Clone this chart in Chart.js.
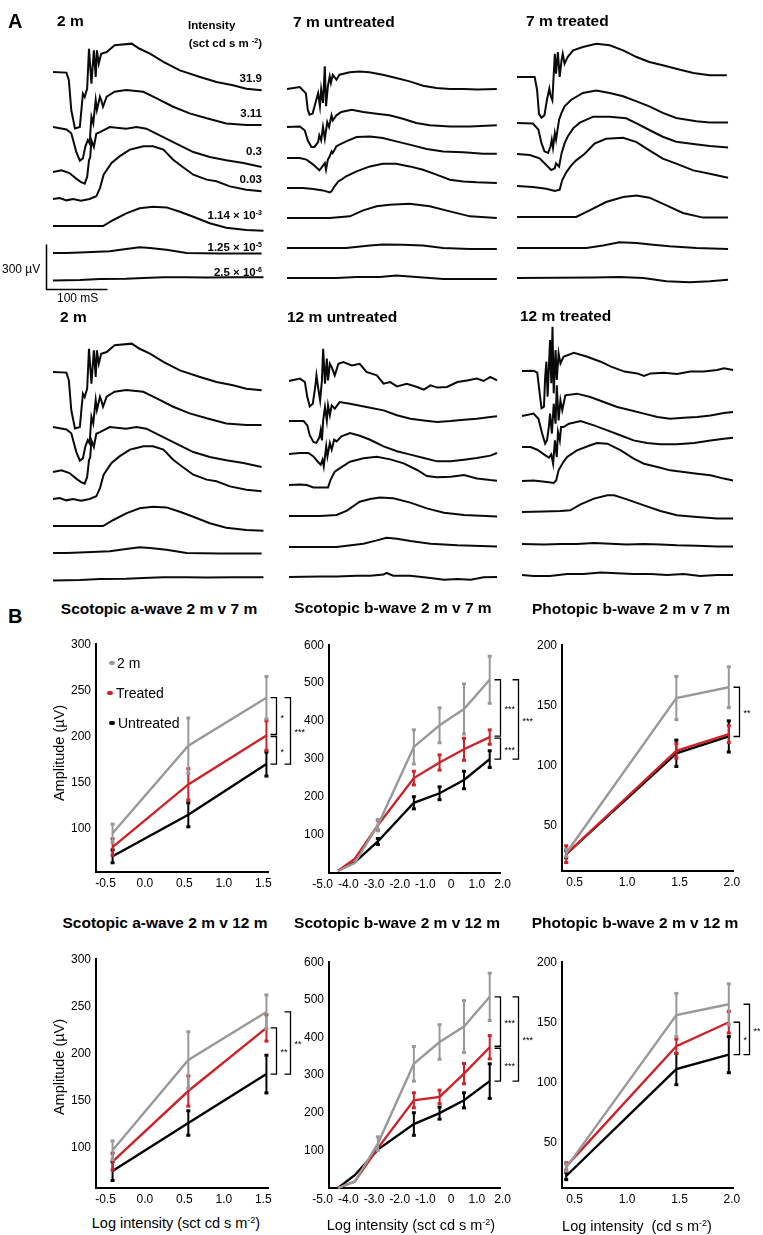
<!DOCTYPE html>
<html>
<head>
<meta charset="utf-8">
<script src="https://cdn.jsdelivr.net/npm/chart.js@4.4.1/dist/chart.umd.min.js"></script>
<style>
  html, body { margin: 0; padding: 0; background: #fff; }
  body { width: 763px; height: 1235px; position: relative; overflow: hidden;
         font-family: "Liberation Sans", Arial, Helvetica, sans-serif; color: #000; }
  canvas { position: absolute; }
  .t { position: absolute; white-space: nowrap; line-height: 1; }
  .letter { font-size: 20px; font-weight: bold; }
  .ttl { font-size: 15.5px; font-weight: bold; }
  .lvl { font-size: 11.5px; font-weight: bold; }
  .lvl sup { font-size: 7px; vertical-align: 4px; }
  .bar { font-size: 12px; }
  .leg { font-size: 14px; }
  .ax { font-size: 14.5px; }
  .ax sup { font-size: 9px; vertical-align: 5px; }
  .mk { position: absolute; width: 6px; height: 4px; border-radius: 2px; transform: translate(-50%, -50%); }
</style>
</head>
<body>
<script>
// ---------- Panel A: ERG traces, [time ms, amplitude uV] ----------
// 2 m (shown in both rows)
const m2_1 = [[0,0],[22,-4],[26,-55],[30,-255],[36,-377],[44,-366],[49,-144],[52,-167],[56,-111],[59,155],[63,-78],[67,144],[70,-33],[72,144],[75,55],[79,122],[88,133],[101,178],[129,189],[142,155],[159,122],[181,67],[208,11],[241,-33],[268,-67],[295,-89],[317,-111],[342,-122]];
const m2_2 = [[0,0],[22,-16],[30,-42],[38,-164],[44,-224],[49,-209],[53,-131],[57,-87],[60,-109],[63,69],[66,24],[70,180],[72,113],[77,202],[79,180],[82,135],[88,202],[101,235],[120,246],[148,235],[170,191],[197,135],[224,91],[252,58],[284,24],[317,13],[342,13]];
const m2_3 = [[0,0],[14,11],[27,-7],[38,-44],[46,-67],[52,-78],[56,-33],[59,78],[61,100],[63,211],[67,167],[71,255],[77,266],[93,300],[120,289],[137,300],[153,289],[175,244],[202,189],[230,133],[257,100],[284,78],[312,60],[342,33]];
const m2_4 = [[0,0],[11,7],[22,-9],[33,0],[46,-11],[60,0],[71,18],[77,73],[83,162],[96,240],[109,284],[126,329],[137,340],[148,351],[164,351],[181,329],[197,262],[211,218],[230,162],[252,129],[268,118],[290,84],[317,62],[342,51]];
const m2_5 = [[0,0],[82,0],[99,40],[120,84],[142,118],[164,129],[186,124],[208,95],[230,62],[257,18],[284,-11],[317,-27],[345,-31]];
const m2_6 = [[0,0],[22,0],[44,4],[93,11],[120,27],[142,38],[159,33],[186,22],[219,0],[273,-4],[342,-4]];
const m2_7 = [[0,-4],[44,0],[77,7],[120,9],[148,13],[181,18],[219,18],[252,16],[295,18],[345,18]];

// 7 m untreated
const u7_1 = [[0,0],[21,13],[31,-29],[34,-138],[37,-171],[42,-164],[48,-71],[51,-27],[54,-115],[56,-4],[59,-93],[62,151],[64,-115],[67,18],[70,84],[72,40],[75,95],[81,62],[86,95],[103,111],[119,117],[135,111],[157,95],[179,73],[201,51],[223,22],[245,7],[267,0],[290,0],[312,-4],[344,0]];
const u7_2 = [[0,0],[21,4],[29,-22],[34,-89],[40,-133],[45,-133],[51,-100],[53,-55],[56,-89],[59,0],[62,-78],[66,33],[69,0],[73,78],[75,44],[81,78],[89,100],[106,115],[125,100],[147,89],[168,78],[190,55],[212,27],[234,11],[267,4],[300,4],[344,11]];
const u7_3 = [[0,0],[21,0],[32,-11],[43,-44],[53,-82],[56,-67],[62,-33],[64,-78],[67,-11],[70,11],[73,44],[75,33],[81,78],[86,89],[97,111],[114,140],[136,144],[157,133],[179,111],[201,89],[229,60],[256,44],[289,38],[322,29],[344,29]];
const u7_4 = [[0,0],[26,0],[43,-7],[59,-16],[70,-29],[73,-22],[78,11],[84,44],[89,55],[97,78],[114,111],[136,144],[157,162],[179,162],[201,144],[223,122],[245,89],[267,55],[289,44],[311,38],[344,33]];
const u7_5 = [[0,0],[70,0],[103,11],[125,51],[147,78],[168,89],[201,95],[234,78],[267,44],[300,11],[344,0]];
const u7_6 = [[0,0],[54,0],[97,0],[136,16],[157,24],[190,22],[223,16],[256,0],[300,-7],[344,-7]];
const u7_7 = [[0,0],[81,0],[114,7],[152,7],[179,16],[212,7],[256,-7],[300,-7],[344,-7]];

// 7 m treated
const t7_1 = [[0,0],[29,0],[33,-89],[36,-244],[40,-271],[45,-255],[49,-155],[53,-78],[55,-122],[58,-155],[62,155],[64,22],[67,166],[70,0],[73,111],[75,155],[78,89],[83,133],[92,178],[108,200],[130,222],[152,211],[174,178],[196,133],[217,100],[239,78],[261,55],[289,27],[316,11],[344,11]];
const t7_2 = [[0,0],[26,-4],[35,-44],[40,-133],[45,-189],[51,-200],[55,-155],[57,-111],[59,-166],[62,-67],[64,-111],[69,22],[73,67],[78,111],[89,155],[108,200],[130,217],[152,200],[174,178],[196,144],[217,111],[239,67],[261,33],[294,11],[316,4],[346,4]];
const t7_3 = [[0,0],[21,-7],[37,-29],[48,-73],[56,-107],[62,-95],[64,-62],[69,-84],[73,4],[78,71],[83,115],[92,171],[103,209],[125,249],[152,249],[179,238],[196,204],[217,160],[239,115],[261,82],[289,67],[316,53],[346,44]];
const t7_4 = [[0,0],[26,-7],[48,-18],[62,-33],[70,-24],[74,38],[81,93],[89,138],[97,171],[111,215],[127,282],[146,315],[174,322],[196,293],[217,238],[239,182],[261,149],[289,104],[316,82],[346,55]];
const t7_5 = [[0,0],[43,0],[97,0],[119,44],[146,100],[174,133],[196,144],[217,129],[245,78],[272,27],[305,-4],[346,-4]];
const t7_6 = [[0,0],[114,0],[141,16],[168,38],[196,33],[223,22],[250,11],[294,0],[346,-7]];
const t7_7 = [[0,0],[125,4],[168,7],[207,0],[245,-22],[283,-29],[316,-22],[346,-11]];

// 12 m untreated
const u12_1 = [[0,0],[18,16],[26,-7],[30,-107],[34,-169],[39,-151],[43,-40],[45,38],[48,-51],[51,-129],[54,4],[56,215],[59,-18],[62,149],[64,4],[67,115],[70,93],[75,38],[81,115],[89,126],[103,104],[116,115],[127,60],[144,38],[155,-18],[166,-7],[177,-36],[193,-18],[210,-40],[221,-58],[232,-29],[243,-44],[259,-40],[276,-7],[292,4],[308,16],[319,0],[330,27],[341,4]];
const u12_2 = [[0,0],[24,0],[30,-29],[34,-95],[40,-140],[45,-146],[50,-107],[52,-62],[54,-129],[56,4],[59,93],[62,4],[64,104],[67,38],[70,104],[75,82],[83,126],[100,115],[127,93],[155,71],[177,38],[199,15],[221,4],[243,-7],[265,0],[287,9],[308,15],[330,27],[341,31]];
const u12_3 = [[0,0],[18,7],[32,7],[40,-16],[48,-55],[52,-71],[55,-38],[57,-82],[61,51],[63,-16],[67,73],[70,29],[74,95],[78,84],[86,118],[100,140],[116,122],[133,95],[155,51],[177,18],[199,-4],[221,-27],[243,-49],[265,-49],[287,-38],[308,-27],[330,-11],[341,7]];
const u12_4 = [[0,0],[18,4],[29,0],[40,-16],[51,-16],[64,-16],[68,33],[75,89],[83,111],[100,155],[122,178],[144,189],[166,171],[188,144],[210,100],[226,60],[243,51],[265,55],[287,67],[308,44],[330,33],[341,29]];
const u12_5 = [[0,0],[51,0],[78,7],[95,36],[116,95],[133,113],[149,124],[171,118],[199,89],[226,51],[254,22],[287,7],[341,-4]];
const u12_6 = [[0,0],[78,0],[122,22],[144,44],[160,62],[177,55],[199,40],[232,22],[276,11],[341,4]];
const u12_7 = [[0,0],[51,4],[78,4],[111,9],[133,9],[155,16],[160,27],[171,9],[199,9],[232,-7],[254,-18],[276,-13],[298,-18],[319,-2],[341,0]];

// 12 m treated
const t12_1 = [[0,0],[19,2],[25,-11],[29,-149],[32,-249],[36,-238],[38,-38],[40,62],[42,-171],[46,206],[48,-82],[50,295],[52,-149],[55,140],[57,-60],[60,118],[63,51],[68,95],[85,122],[107,95],[129,62],[146,29],[168,-4],[189,-16],[200,-33],[211,-16],[233,-11],[254,-20],[276,-4],[298,-4],[320,7],[331,18],[346,7]];
const t12_2 = [[0,0],[19,16],[27,-18],[33,-117],[38,-184],[41,-162],[44,-73],[46,16],[49,-117],[52,82],[55,-51],[57,204],[60,-29],[63,104],[66,38],[71,138],[90,149],[112,127],[134,93],[156,60],[178,38],[200,16],[222,-7],[243,-18],[265,-11],[287,-7],[309,4],[331,20],[346,27]];
const t12_3 = [[0,0],[14,0],[25,-18],[36,-49],[44,-71],[48,-49],[51,-111],[54,44],[57,-67],[59,100],[62,44],[64,133],[68,133],[77,155],[96,173],[118,144],[140,111],[161,78],[183,44],[205,27],[227,18],[254,18],[282,27],[309,44],[331,55],[346,62]];
const t12_4 = [[0,0],[19,4],[41,-7],[52,-13],[56,4],[60,71],[66,115],[74,160],[90,204],[112,238],[123,253],[140,249],[162,204],[183,149],[200,115],[222,93],[243,71],[265,60],[287,49],[309,38],[331,16],[346,4]];
const t12_5 = [[0,0],[36,4],[63,7],[79,11],[96,51],[118,89],[140,111],[151,111],[172,84],[200,44],[227,7],[254,-22],[287,-33],[320,-44],[346,-44]];
const t12_6 = [[0,0],[36,-4],[63,0],[90,0],[118,7],[145,2],[172,-4],[200,0],[227,-4],[254,-9],[287,-11],[320,-16],[346,-16]];
const t12_7 = [[0,0],[19,-7],[46,-7],[74,7],[101,7],[129,16],[156,11],[183,7],[211,7],[238,0],[265,7],[292,-7],[320,0],[346,0]];

const intensityLabels = ["31.9", "3.11", "0.3", "0.03", "1.14 × 10<sup>-3</sup>", "1.25 × 10<sup>-5</sup>", "2.5 × 10<sup>-6</sup>"];

// ---------- Panel B: amplitudes (uV) and SEM ----------
const aWaveX = [-0.41, 0.55, 1.54];
const bWaveX = [-4.4, -3.75, -2.85, -1.45, -0.45, 0.5, 1.5];
const photX = [0.42, 1.47, 1.97];

const aw7Young = [95, 190, 242],  aw7YoungSem = [10, 30, 23];
const aw7Treated = [80, 148, 201], aw7TreatedSem = [9, 17, 16];
const aw7Untreated = [70, 115, 170], aw7UntreatedSem = [7, 13, 13];

const bw7Young = [6, 26, 126, 332, 389, 432, 509],  bw7YoungSem = [0, 0, 15, 45, 46, 66, 62];
const bw7Treated = [6, 37, 126, 250, 291, 326, 358], bw7TreatedSem = [0, 0, 13, 18, 20, 29, 19];
const bw7Untreated = [6, 28, 83, 185, 210, 245, 300], bw7UntreatedSem = [0, 0, 8, 16, 17, 23, 22];

const pb7Young = [27, 156, 165],  pb7YoungSem = [3, 18, 17];
const pb7Treated = [26, 112, 126], pb7TreatedSem = [7, 6, 7];
const pb7Untreated = [26, 110, 124], pb7UntreatedSem = [3, 11, 13];

const aw12Young = [97, 193, 244],  aw12YoungSem = [10, 30, 18];
const aw12Treated = [85, 160, 227], aw12TreatedSem = [9, 16, 14];
const aw12Untreated = [75, 126, 178], aw12UntreatedSem = [10, 13, 20];

const bw12Young = [0, 17, 118, 330, 388, 429, 508],  bw12YoungSem = [0, 0, 18, 46, 46, 69, 63];
const bw12Treated = [0, 17, 106, 233, 242, 304, 374], bw12TreatedSem = [0, 0, 0, 20, 18, 27, 31];
const bw12Untreated = [0, 34, 102, 170, 199, 233, 284], bw12UntreatedSem = [0, 0, 0, 30, 16, 20, 46];

const pb12Young = [29, 156, 165],  pb12YoungSem = [3, 18, 17];
const pb12Treated = [30, 130, 150], pb12TreatedSem = [3, 6, 9];
const pb12Untreated = [22, 111, 123], pb12UntreatedSem = [3, 13, 15];

const aTicksX = [-0.5, 0, 0.5, 1.0, 1.5];
const bTicksX = [-5, -4, -3, -2, -1, 0, 1, 2];
const pTicksX = [0.5, 1.0, 1.5, 2.0];
const aTicksY = [100, 150, 200, 250, 300];
const bTicksY = [100, 200, 300, 400, 500, 600];
const pTicksY = [50, 100, 150, 200];

const GREY = "#999999", RED = "#cc2229", BLACK = "#000000";

// ---------- helpers ----------
Chart.defaults.font.family = '"Liberation Sans", Arial, Helvetica, sans-serif';
Chart.defaults.color = "#000";

const UV_PER_PX = 300 / 45;  // from the 300 uV scale bar
const MS_PER_PX = 100 / 61;  // from the 100 ms scale bar

function addCanvas(left, top, w, h) {
  const c = document.createElement("canvas");
  c.width = w; c.height = h;
  c.style.left = left + "px"; c.style.top = top + "px";
  c.style.width = w + "px"; c.style.height = h + "px";
  document.body.appendChild(c);
  return c;
}

function txt(html, x, y, cls, align) {
  const d = document.createElement("div");
  d.className = "t " + (cls || "");
  d.innerHTML = html;
  d.style.left = x + "px"; d.style.top = y + "px";
  const tx = align === "r" ? "-100%" : align === "c" ? "-50%" : "0";
  d.style.transform = "translate(" + tx + ", -50%)";
  document.body.appendChild(d);
  return d;
}

function tracePanel(x0, top, bottom, baselines, traces, padL, extraPlugins) {
  const padR = 6, span = 213;
  const h = bottom - top;
  const c = addCanvas(x0 - padL, top, padL + span + padR, h);
  const datasets = traces.map((tr, k) => {
    const off = (bottom - baselines[k]) * UV_PER_PX;
    return {
      data: tr.map(p => ({ x: p[0], y: p[1] + off })),
      borderColor: "#0a0a0a", borderWidth: 2, pointRadius: 0, tension: 0, clip: false
    };
  });
  return new Chart(c, {
    type: "line",
    data: { datasets },
    options: {
      responsive: false, animation: false, events: [],
      layout: { padding: 0 },
      plugins: { legend: { display: false }, tooltip: { enabled: false } },
      scales: {
        x: { type: "linear", display: false, min: -padL * MS_PER_PX, max: (span + padR) * MS_PER_PX },
        y: { display: false, min: 0, max: h * UV_PER_PX }
      }
    },
    plugins: extraPlugins || []
  });
}

// 300 uV / 100 ms scale bar on the first panel
const scaleBar = {
  id: "scaleBar",
  afterDraw(chart) {
    const { ctx, scales: { x, y } } = chart;
    const t0 = -6.5 * MS_PER_PX;
    const v0 = (300 - 289.5) * UV_PER_PX;
    ctx.save();
    ctx.strokeStyle = "#000"; ctx.lineWidth = 1.5;
    ctx.beginPath();
    ctx.moveTo(x.getPixelForValue(t0), y.getPixelForValue(v0 + 300));
    ctx.lineTo(x.getPixelForValue(t0), y.getPixelForValue(v0));
    ctx.lineTo(x.getPixelForValue(t0 + 100), y.getPixelForValue(v0));
    ctx.stroke();
    ctx.restore();
  }
};

const errorBars = {
  id: "errorBars",
  afterDatasetDraw(chart, args) {
    const ds = chart.data.datasets[args.index];
    if (!ds.sem) return;
    const { ctx, scales: { x, y } } = chart;
    ctx.save();
    ctx.strokeStyle = ds.borderColor; ctx.fillStyle = ds.borderColor; ctx.lineWidth = 2;
    ds.data.forEach((p, i) => {
      const e = ds.sem[i];
      if (!e) return;
      const px = x.getPixelForValue(p.x);
      const yt = y.getPixelForValue(p.y + e), yb = y.getPixelForValue(p.y - e);
      ctx.beginPath(); ctx.moveTo(px, yt); ctx.lineTo(px, yb); ctx.stroke();
      ctx.fillRect(px - 2, yt - 1.5, 4, 3);
      ctx.fillRect(px - 2, yb - 1.5, 4, 3);
    });
    ctx.restore();
  }
};

function makeBrackets(list) {
  return {
    id: "brackets",
    afterDraw(chart) {
      const { ctx, scales: { x, y } } = chart;
      const ds = chart.data.datasets;
      ctx.save();
      ctx.strokeStyle = "#000"; ctx.fillStyle = "#000"; ctx.lineWidth = 1.3;
      ctx.font = '9px "Liberation Sans", Arial, sans-serif';
      ctx.textAlign = "left"; ctx.textBaseline = "middle";
      list.forEach(b => {
        const a = ds[b.from].data, z = ds[b.to].data, n = a.length - 1;
        const px = Math.round(x.getPixelForValue(a[n].x) + b.dx) + 0.5;
        const y1 = y.getPixelForValue(a[n].y) + (b.gapTop || 0);
        const y2 = y.getPixelForValue(z[n].y) - (b.gapBottom || 0);
        ctx.beginPath();
        ctx.moveTo(px - 6, y1); ctx.lineTo(px, y1); ctx.lineTo(px, y2); ctx.lineTo(px - 6, y2);
        ctx.stroke();
        ctx.fillText(b.text, px + 4, (y1 + y2) / 2 + 2);
      });
      ctx.restore();
    }
  };
}

function ampChart(o) {
  const yW = 30, xH = 20, padT = 10;
  const [aL, aT, aR, aB] = o.area;
  const left = aL - yW, top = aT - padT;
  const w = aR + o.padR - left, h = aB + xH - top;
  const c = addCanvas(left, top, w, h);
  const datasets = o.series.map(s => ({
    data: o.x.map((xv, i) => ({ x: xv, y: s.y[i] })),
    sem: s.sem, borderColor: s.color, borderWidth: 2.4,
    pointRadius: 0, tension: 0, clip: false
  }));
  return new Chart(c, {
    type: "line",
    data: { datasets },
    options: {
      responsive: false, animation: false, events: [],
      layout: { padding: { top: padT, right: o.padR, left: 0, bottom: 0 } },
      plugins: { legend: { display: false }, tooltip: { enabled: false } },
      scales: {
        x: {
          type: "linear", min: o.xMin, max: o.xMax,
          afterBuildTicks: s => { s.ticks = o.xTicks.map(v => ({ value: v })); },
          afterFit: s => { s.height = xH; },
          grid: { display: false, drawTicks: false },
          border: { color: "#000", width: 2 },
          ticks: { autoSkip: false, maxRotation: 0, padding: 4, font: { size: 12 },
                   callback: v => (v === 0 && o.plainZero) ? "0" : Number(v).toFixed(1) }
        },
        y: {
          min: o.yMin, max: o.yMax,
          afterBuildTicks: s => { s.ticks = o.yTicks.map(v => ({ value: v })); },
          afterFit: s => { s.width = yW; },
          grid: { display: false, drawTicks: false },
          border: { color: "#000", width: 2 },
          ticks: { padding: 5, font: { size: 12 } }
        }
      }
    },
    plugins: [errorBars, makeBrackets(o.brackets)]
  });
}

// ---------- Panel A ----------
tracePanel(53, 30, 300, [72, 127, 172, 199, 226, 253, 280], [m2_1, m2_2, m2_3, m2_4, m2_5, m2_6, m2_7], 53, [scaleBar]);
tracePanel(287, 30, 300, [89, 127, 158, 188, 218, 248, 278], [u7_1, u7_2, u7_3, u7_4, u7_5, u7_6, u7_7], 4);
tracePanel(517, 30, 300, [77, 123, 154, 186, 217, 248, 278], [t7_1, t7_2, t7_3, t7_4, t7_5, t7_6, t7_7], 4);
tracePanel(53, 320, 600, [372, 427, 472, 499, 526, 553, 580], [m2_1, m2_2, m2_3, m2_4, m2_5, m2_6, m2_7], 4);
tracePanel(289, 320, 600, [381, 421, 454, 485, 516, 547, 577], [u12_1, u12_2, u12_3, u12_4, u12_5, u12_6, u12_7], 4);
tracePanel(522, 320, 600, [371, 416, 447, 481, 512, 544, 575], [t12_1, t12_2, t12_3, t12_4, t12_5, t12_6, t12_7], 4);

// ---------- Panel B ----------
ampChart({
  area: [96, 642, 268, 872], padR: 45, xMin: -0.62, xMax: 1.56, yMin: 53, yMax: 300,
  x: aWaveX, xTicks: aTicksX, yTicks: aTicksY,
  series: [
    { y: aw7Young, sem: aw7YoungSem, color: GREY },
    { y: aw7Treated, sem: aw7TreatedSem, color: RED },
    { y: aw7Untreated, sem: aw7UntreatedSem, color: BLACK }
  ],
  brackets: [
    { from: 0, to: 1, dx: 10, text: "*", gapBottom: 1 },
    { from: 1, to: 2, dx: 10, text: "*", gapTop: 1 },
    { from: 0, to: 2, dx: 24, text: "***" }
  ]
});
ampChart({
  area: [329, 643, 500, 873], padR: 45, xMin: -4.75, xMax: 1.9, yMin: 0, yMax: 600, plainZero: true,
  x: bWaveX, xTicks: bTicksX, yTicks: bTicksY,
  series: [
    { y: bw7Young, sem: bw7YoungSem, color: GREY },
    { y: bw7Treated, sem: bw7TreatedSem, color: RED },
    { y: bw7Untreated, sem: bw7UntreatedSem, color: BLACK }
  ],
  brackets: [
    { from: 0, to: 1, dx: 10, text: "***", gapBottom: 1 },
    { from: 1, to: 2, dx: 10, text: "***", gapTop: 1 },
    { from: 0, to: 2, dx: 28, text: "***" }
  ]
});
ampChart({
  area: [562, 643, 733, 871], padR: 27, xMin: 0.38, xMax: 2.01, yMin: 12, yMax: 200,
  x: photX, xTicks: pTicksX, yTicks: pTicksY,
  series: [
    { y: pb7Young, sem: pb7YoungSem, color: GREY },
    { y: pb7Treated, sem: pb7TreatedSem, color: RED },
    { y: pb7Untreated, sem: pb7UntreatedSem, color: BLACK }
  ],
  brackets: [
    { from: 0, to: 2, dx: 10, text: "**" }
  ]
});
ampChart({
  area: [96, 957, 268, 1188], padR: 45, xMin: -0.62, xMax: 1.56, yMin: 57, yMax: 300,
  x: aWaveX, xTicks: aTicksX, yTicks: aTicksY,
  series: [
    { y: aw12Young, sem: aw12YoungSem, color: GREY },
    { y: aw12Treated, sem: aw12TreatedSem, color: RED },
    { y: aw12Untreated, sem: aw12UntreatedSem, color: BLACK }
  ],
  brackets: [
    { from: 1, to: 2, dx: 10, text: "**" },
    { from: 0, to: 2, dx: 24, text: "**" }
  ]
});
ampChart({
  area: [329, 960, 500, 1188], padR: 45, xMin: -4.75, xMax: 1.9, yMin: 0, yMax: 600, plainZero: true,
  x: bWaveX, xTicks: bTicksX, yTicks: bTicksY,
  series: [
    { y: bw12Young, sem: bw12YoungSem, color: GREY },
    { y: bw12Treated, sem: bw12TreatedSem, color: RED },
    { y: bw12Untreated, sem: bw12UntreatedSem, color: BLACK }
  ],
  brackets: [
    { from: 0, to: 1, dx: 10, text: "***", gapBottom: 1 },
    { from: 1, to: 2, dx: 10, text: "***", gapTop: 1 },
    { from: 0, to: 2, dx: 28, text: "***" }
  ]
});
ampChart({
  area: [562, 960, 733, 1188], padR: 27, xMin: 0.38, xMax: 2.01, yMin: 12, yMax: 200,
  x: photX, xTicks: pTicksX, yTicks: pTicksY,
  series: [
    { y: pb12Young, sem: pb12YoungSem, color: GREY },
    { y: pb12Treated, sem: pb12TreatedSem, color: RED },
    { y: pb12Untreated, sem: pb12UntreatedSem, color: BLACK }
  ],
  brackets: [
    { from: 1, to: 2, dx: 10, text: "*" },
    { from: 0, to: 2, dx: 20, text: "**" }
  ]
});

// ---------- text ----------
txt("A", 8, 21, "letter");
txt("2 m", 57, 21, "ttl");
txt("7 m untreated", 293, 22, "ttl");
txt("7 m treated", 526, 21, "ttl");
txt("2 m", 60, 317, "ttl");
txt("12 m untreated", 287, 317, "ttl");
txt("12 m treated", 520, 316, "ttl");
txt("Intensity", 188, 26, "lvl");
txt("(sct cd s m <sup>-2</sup>)", 262, 43, "lvl", "r");
const lvlY = [79, 114, 152, 180, 215, 247, 272];
intensityLabels.forEach((s, i) => txt(s, 262, lvlY[i], "lvl", "r"));
txt("300 µV", 2, 269, "bar");
txt("100 mS", 57, 298, "bar");

txt("B", 8, 616, "letter");
txt("Scotopic a-wave 2 m v 7 m", 159, 609, "ttl", "c");
txt("Scotopic b-wave 2 m v 7 m", 393, 608, "ttl", "c");
txt("Photopic b-wave 2 m v 7 m", 631, 609, "ttl", "c");
txt("Scotopic a-wave 2 m v 12 m", 165, 923, "ttl", "c");
txt("Scotopic b-wave 2 m v 12 m", 397, 923, "ttl", "c");
txt("Photopic b-wave 2 m v 12 m", 635, 923, "ttl", "c");

const amp1 = txt("Amplitude (µV)", 59, 753, "ax", "c");
amp1.style.transform = "translate(-50%, -50%) rotate(-90deg)";
const amp2 = txt("Amplitude (µV)", 59, 1067, "ax", "c");
amp2.style.transform = "translate(-50%, -50%) rotate(-90deg)";
txt("Log intensity (sct cd s m<sup>-2</sup>)", 176, 1223, "ax", "c");
txt("Log intensity (sct cd s m<sup>-2</sup>)", 411, 1225, "ax", "c");
txt("Log intensity &nbsp;(cd s m<sup>-2</sup>)", 637, 1226, "ax", "c");

// legend
[["2 m", GREY, 112, 663, 117], ["Treated", RED, 110, 693, 116], ["Untreated", BLACK, 112, 723, 118]].forEach(l => {
  const m = document.createElement("div");
  m.className = "mk"; m.style.background = l[1];
  m.style.left = l[2] + "px"; m.style.top = l[3] + "px";
  document.body.appendChild(m);
  txt(l[0], l[4], l[3], "leg");
});
</script>
</body>
</html>
